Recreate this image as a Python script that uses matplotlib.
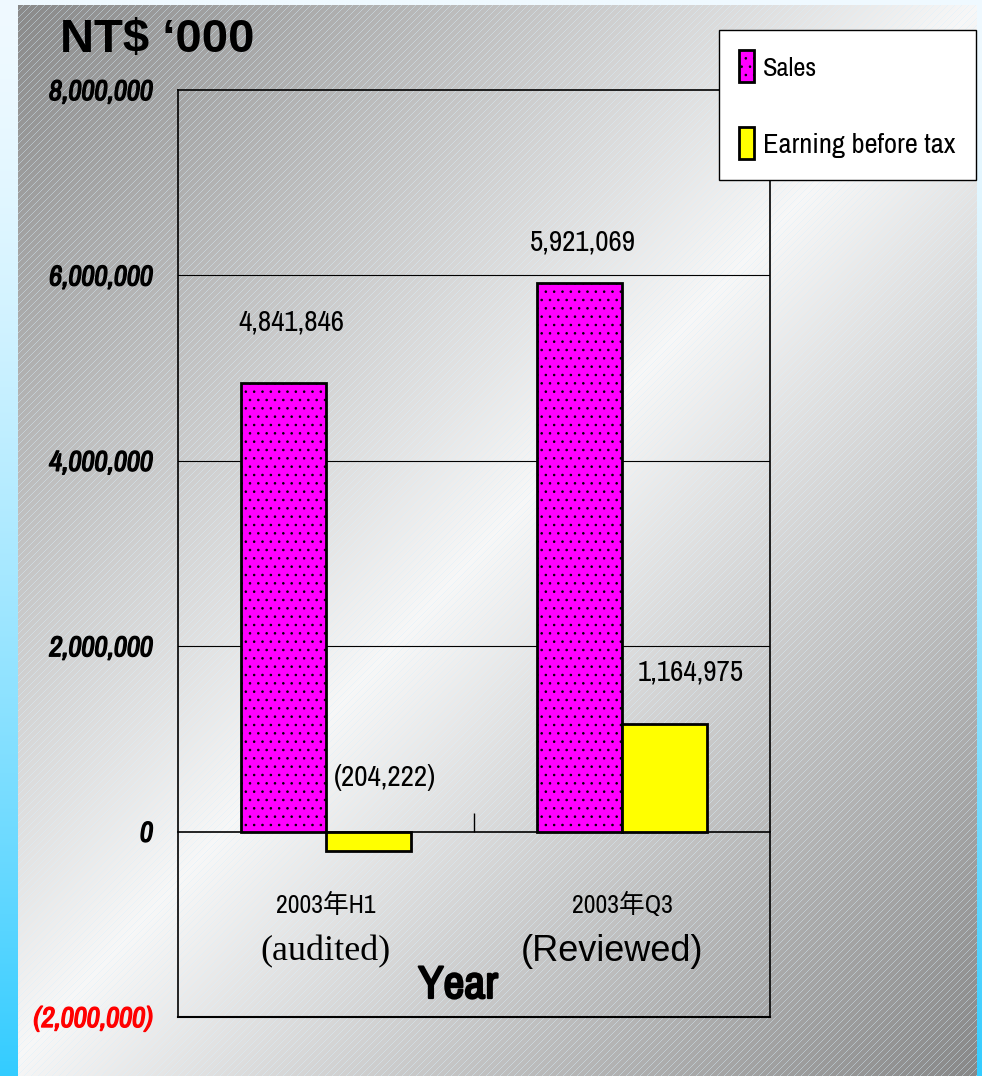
"""Sales vs earning before tax, 2003 H1 and Q3 (NT$ thousands)."""

import numpy as np
import matplotlib

matplotlib.use("Agg")
import matplotlib.pyplot as plt
from matplotlib import font_manager
import matplotlib.patheffects as pe

categories = ["2003年H1", "2003年Q3"]
category_notes = ["(audited)", "(Reviewed)"]
series_names = ["Sales", "Earning before tax"]
sales = [4841846, 5921069]
earning_before_tax = [-204222, 1164975]
y_ticks = [-2000000, 0, 2000000, 4000000, 6000000, 8000000]

W, H = 982, 1076


def pick_narrow():
    families = {}
    for f in font_manager.fontManager.ttflist:
        narrow = ("Narrow" in f.name or "Condensed" in f.name
                  or str(f.stretch) in ("condensed", "semi-condensed", "extra-condensed"))
        if narrow:
            w = f.weight if isinstance(f.weight, int) else (700 if "bold" in str(f.weight) else 400)
            families.setdefault((f.name, f.stretch), set()).add(w)
    if not families:
        return "Liberation Sans", "normal", 0.82
    regular = sorted(families, key=lambda k: (400 not in families[k], k[0]))[0]
    return regular[0], regular[1], 1.0


NARROW, STRETCH, SCALE = pick_narrow()
NARROW_CJK = [NARROW, "Noto Sans CJK SC", "DejaVu Sans"]
# faux bold for the condensed face
HEAVY = [pe.withStroke(linewidth=1.0, foreground="black")]
HEAVY_RED = [pe.withStroke(linewidth=1.0, foreground="red")]

plt.rcParams["hatch.linewidth"] = 0.6


def make_background(h, w):
    yy, xx = np.mgrid[0:h, 0:w]
    t = (xx / w + yy / h) / 2
    v = 0.53 + 0.44 * (1 - np.abs(2 * t - 1))
    img = np.dstack([v, v, v])
    stripes = ((xx + yy) % 7) == 0
    line = np.array([0.85, 0.94, 0.99])
    img[stripes] = img[stripes] * 0.55 + line * 0.45
    f = (yy / h) ** 1.5
    top = np.array([0.94, 0.98, 1.0])
    bottom = np.array([0.2, 0.8, 1.0])
    frame = top * (1 - f[..., None]) + bottom * f[..., None]
    edge = (xx < 18) | (xx >= 977) | (yy < 5)
    img[edge] = frame[edge]
    return img


def fmt(v):
    return f"({abs(v):,})" if v < 0 else f"{v:,}"


fig = plt.figure(figsize=(W / 100, H / 100), dpi=100)
bg = fig.add_axes([0, 0, 1, 1], zorder=-10)
bg.imshow(make_background(H, W), aspect="auto", interpolation="nearest")
bg.axis("off")

ax = fig.add_axes([178 / W, 1 - 1017 / H, 592 / W, 927 / H])
ax.patch.set_alpha(0)

x = np.arange(len(categories))
width = 0.287
bars_sales = ax.bar(x - width / 2, sales, width, color="#ff00ff", edgecolor="black",
                    linewidth=2, hatch="..", label=series_names[0], zorder=3)
bars_ebt = ax.bar(x + width / 2, earning_before_tax, width, color="#ffff00", edgecolor="black",
                  linewidth=2, label=series_names[1], zorder=3)

ax.set_xlim(-0.5, 1.5)
ax.set_ylim(-2000000, 8000000)
ax.set_yticks(y_ticks)
ax.set_yticklabels([fmt(v) for v in y_ticks])
ax.tick_params(axis="y", length=0, pad=18)
for lab, v in zip(ax.get_yticklabels(), y_ticks):
    lab.set_fontfamily(NARROW)
    lab.set_fontstretch(STRETCH)
    lab.set_fontstyle("italic")
    lab.set_fontsize(20.5 * SCALE)
    lab.set_color("red" if v < 0 else "black")
    lab.set_path_effects(HEAVY_RED if v < 0 else HEAVY)

ax.set_xticks([])
ax.set_xticks([0.5], minor=True)
ax.tick_params(axis="x", which="minor", direction="in", length=14, width=1, bottom=True)
ax.xaxis.set_ticks_position("bottom")
ax.spines["bottom"].set_position(("data", 0))
ax.spines["bottom"].set_linewidth(1.2)
for side in ["left", "right", "top"]:
    ax.spines[side].set_linewidth(1.2)
ax.axhline(-2000000, color="black", linewidth=1.5, clip_on=False)
for v in y_ticks[2:-1]:
    ax.axhline(v, color="black", linewidth=0.8, zorder=1)

nudges = [(8, 61), (16, 54), (3, 41), (26, 52)]
k = 0
for i in range(len(categories)):
    for bars in (bars_sales, bars_ebt):
        rect = bars[i]
        v = rect.get_height()
        dx, dy = nudges[k]
        k += 1
        ax.annotate(fmt(int(round(v))), (rect.get_x() + rect.get_width() / 2, max(v, 0)),
                    xytext=(dx, dy), textcoords="offset pixels", ha="center", va="center",
                    fontsize=21 * SCALE, family=NARROW, fontstretch=STRETCH)

for i, (cat, note) in enumerate(zip(categories, category_notes)):
    ax.annotate(cat, (x[i], 0), xytext=(0, -73), textcoords="offset pixels",
                ha="center", va="center", fontsize=18.5 * SCALE, family=NARROW_CJK,
                fontstretch=STRETCH)
    note_family = "Liberation Serif" if i == 0 else "Liberation Sans"
    ax.annotate(note, (x[i], 0), xytext=(-10 * i, -120), textcoords="offset pixels",
                ha="center", va="center", fontsize=26, family=note_family)

fig.text(458 / W, 1 - 985 / H, "Year", ha="center", va="center", fontsize=33 * SCALE,
         family=NARROW, fontstretch=STRETCH,
         path_effects=[pe.withStroke(linewidth=1.6, foreground="black")])
fig.text(60 / W, 1 - 40 / H, "NT$ \u2018000", ha="left", va="center", fontsize=34,
         fontweight="bold", family="Liberation Sans")

leg = fig.legend(handles=[bars_sales, bars_ebt], labels=series_names, loc="upper left",
                 bbox_to_anchor=(719 / W, 1 - 30 / H), bbox_transform=fig.transFigure,
                 frameon=True, fancybox=False, edgecolor="black", framealpha=1,
                 prop={"family": NARROW, "size": 21 * SCALE, "stretch": STRETCH},
                 handlelength=0.5, handleheight=1.3,
                 handletextpad=0.3, borderpad=0.7, labelspacing=1.55, borderaxespad=0)
leg.get_frame().set_linewidth(1.0)
leg.get_texts()[0].set_fontsize(19 * SCALE)
leg.get_texts()[1].set_fontsize(20.5 * SCALE)

fig.savefig("out.png", dpi=100)
